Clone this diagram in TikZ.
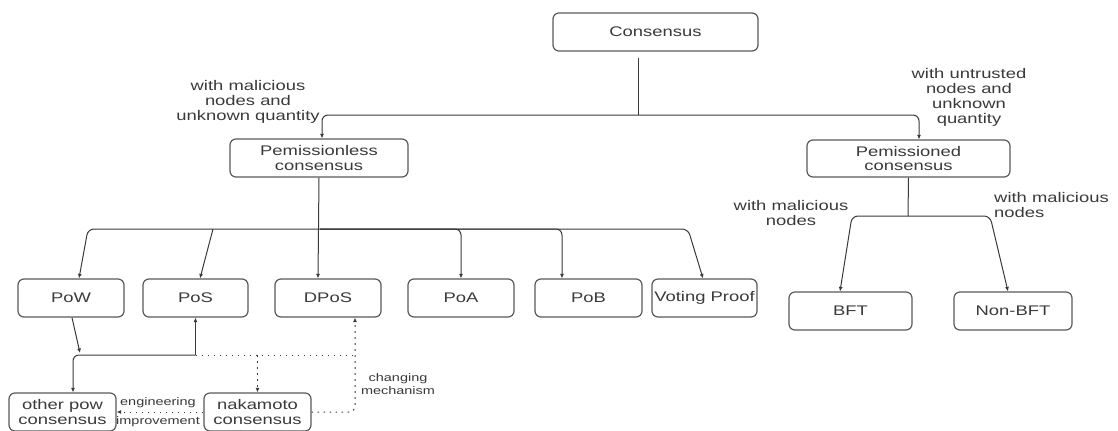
\documentclass[tikz,border=0pt]{standalone}
\usepackage{fontspec}
\setmainfont{Liberation Sans}[FakeStretch=1.32]
\usetikzlibrary{arrows.meta}
\definecolor{ink}{HTML}{3A3A3A}
\definecolor{frame}{HTML}{5A5A5A}

\begin{document}
\begin{tikzpicture}[x=1bp,y=-1bp,
  box/.style={draw=frame, line width=1.2bp, rounded corners=6bp, text=ink,
    align=center, inner sep=0pt, font=\fontsize{14}{15}\selectfont},
  conn/.style={draw=ink, line width=1bp, rounded corners=6bp},
  tip/.style={-{Latex[length=4.5bp,width=4bp]}},
  dotl/.style={conn, dash pattern=on 1.6bp off 4.4bp},
  lbl/.style={text=ink, align=center, inner sep=0pt, font=\fontsize{14}{15}\selectfont},
  small/.style={text=ink, align=center, inner sep=0pt, font=\fontsize{11}{12.5}\selectfont}]

\useasboundingbox (0,0) rectangle (1118,430);
\clip (0,0) rectangle (1118,430);
\fill[white] (0,0) rectangle (1118,430);

% boxes
\node[box, minimum width=205bp, minimum height=38bp] (cons) at (655.5,32) {Consensus};
\node[box, minimum width=178bp, minimum height=38bp] (pl) at (319,158) {Pemissionless\\consensus};
\node[box, minimum width=203bp, minimum height=37bp] (pd) at (908.5,158.5) {Pemissioned\\consensus};

\node[box, minimum width=106bp, minimum height=38bp] (pow)  at (71,298)    {PoW};
\node[box, minimum width=105bp, minimum height=38bp] (pos)  at (195.5,298) {PoS};
\node[box, minimum width=106bp, minimum height=38bp] (dpos) at (328,298)   {DPoS};
\node[box, minimum width=106bp, minimum height=38bp] (poa)  at (461,298)   {PoA};
\node[box, minimum width=107bp, minimum height=38bp] (pob)  at (588.5,298) {PoB};
\node[box, minimum width=105bp, minimum height=38bp] (vote) at (704.5,298) {Voting Proof};

\node[box, minimum width=123bp, minimum height=38bp] (bft)  at (850.5,311) {BFT};
\node[box, minimum width=118bp, minimum height=38bp] (nbft) at (1013,311)  {Non-BFT};

\node[box, minimum width=107bp, minimum height=38bp] (op) at (62.5,412)  {other pow\\consensus};
\node[box, minimum width=107bp, minimum height=38bp] (nk) at (257.5,412) {nakamoto\\consensus};

% labels
\node[lbl] (l1) at (248,102) {with malicious\\nodes and\\unknown quantity};
\node[lbl] (l2) at (969,97.5) {with untrusted\\nodes and\\unknown\\quantity};
\node[lbl] (l3) at (791,213) {with malicious\\nodes};
\node[lbl, align=left, anchor=west] (l4) at (994,205) {with malicious\\nodes};
\node[small] (l5) at (158,403) {engineering};
\node[small] (l6) at (158,422) {improvement};
\node[small] (l7) at (398,384) {changing\\mechanism};

% junctions
\coordinate (t0) at (638,115);
\coordinate (f1) at (320,229);
\coordinate (f1l) at (88,229);
\coordinate (f1s) at (213,229);
\coordinate (f1r) at (688,229);
\coordinate (f2) at (908,216);
\coordinate (f2l) at (852,216);
\coordinate (f2r) at (990,216);
\coordinate (pw) at (80,353);
\coordinate (b1) at (195.5,355);
\coordinate (b2) at (355,355);

% top split
\draw[conn] (cons.south -| t0) ++(0,6) -- (t0);
\draw[conn,tip] (t0) -| ([xshift=3bp]pl.north);
\draw[conn,tip] (t0) -| ([xshift=10.5bp]pd.north);

% permissionless family
\draw[conn,tip] (pl.south) -- ([xshift=-10bp]dpos.north);
\draw[conn,tip] (f1) -- (f1l) -- ([xshift=8bp]pow.north);
\draw[conn,tip] (f1s) -- ([xshift=4.5bp]pos.north);
\draw[conn,tip] (f1) -| (poa.north);
\draw[conn,tip] (f1) -| ([xshift=-26.5bp]pob.north);
\draw[conn,tip] (f1) -- (f1r) -- ([xshift=-1.5bp]vote.north);

% permissioned family
\draw[conn] (pd.south) -- (f2);
\draw[conn,tip] (f2) -- (f2l) -- ([xshift=-10.5bp]bft.north);
\draw[conn,tip] (f2) -- (f2r) -- ([xshift=-5bp]nbft.north);

% derivations below
\draw[conn,tip] ([xshift=1bp]pow.south) -- (pw);
\draw[conn,tip] (b1) -- (pos.south);
\draw[conn,tip] (b1) -| ([xshift=10.5bp]op.north);
\draw[dotl] (b1) -- (b2);
\draw[dotl,tip] (nk.east) -| ([xshift=27bp]dpos.south);
\draw[dotl,tip] (nk.north |- b1) -- (nk.north);
\draw[dotl,tip] (nk.west) -- (op.east);
\end{tikzpicture}
\end{document}
